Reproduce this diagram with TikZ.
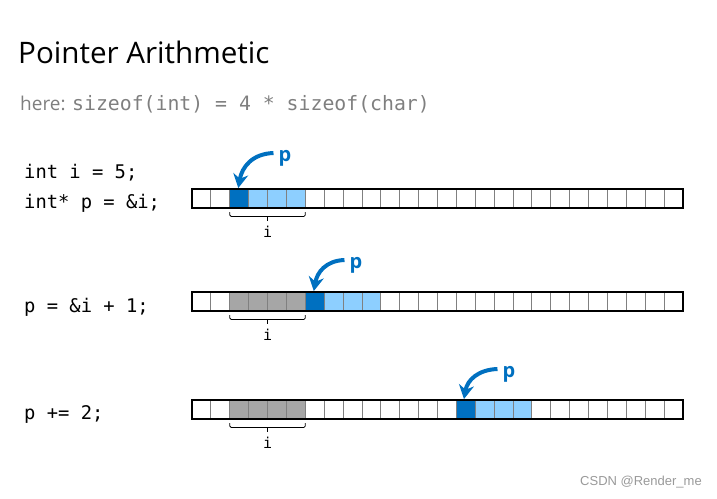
\documentclass[tikz,border=0pt]{standalone}
\usepackage{fontspec}
\setmainfont{Open Sans}
\setmonofont{DejaVu Sans Mono}
\newfontfamily\markfont{Liberation Sans}
\usetikzlibrary{arrows.meta}
\definecolor{pblue}{HTML}{0070C0}
\definecolor{lblue}{HTML}{8DCFFF}
\definecolor{igray}{HTML}{A6A6A6}
\definecolor{tgray}{HTML}{7F7F7F}

\begin{document}
\begin{tikzpicture}[x=1pt,y=-1pt,
    code/.style={anchor=west,inner sep=0pt,font=\ttfamily\fontsize{18.8}{20}\selectfont},
    plabel/.style={inner sep=0pt,text=pblue,font=\bfseries\fontsize{20}{22}\selectfont},
    parrow/.style={draw=pblue,line width=4pt,-{Stealth[length=14pt,width=15pt]}},
    ilabel/.style={inner sep=0pt,font=\ttfamily\fontsize{15}{16}\selectfont},
    inner/.style={draw=gray,line width=0.9pt},
    outer/.style={draw=black,line width=1.8pt},
    bracket/.style={draw,line width=0.8pt,rounded corners=1.5pt}]
  \useasboundingbox (0,0) rectangle (717,498);

  % Heading and note
  \node[anchor=west,inner sep=0pt,font=\fontsize{29.6}{32}\selectfont] (title) at (18,52) {Pointer Arithmetic};
  \node[anchor=west,inner sep=0pt,text=tgray,font=\fontsize{19}{22}\selectfont] (note) at (20,104)
    {here: {\ttfamily\fontsize{19.8}{22}\selectfont sizeof(int) = 4 * sizeof(char)}};

  % Code lines
  \node[code] (c1) at (24,173) {int i = 5;};
  \node[code] (c2) at (24,203) {int* p = \&i;};
  \node[code] (c3) at (24,307) {p = \&i + 1;};
  \node[code] (c4) at (24,414) {p += 2;};

  % First row: p points to i
  \begin{scope}[shift={(192,189)},x=18.885pt,y=-19pt]
    \fill[pblue] (2,0) rectangle (3,1);
    \fill[lblue] (3,0) rectangle (6,1);
    \foreach \k in {1,...,25} \draw[inner] (\k,0) -- (\k,1);
    \draw[outer] (0,0) rectangle (26,1);
    \draw[bracket] (2,1.22) -- (2,1.45) -- (4,1.45) -- (6,1.45) -- (6,1.22); % bracket under i
    \draw[line width=0.8pt] (4,1.45) -- (4,1.7);
    \node[ilabel] (i1) at (4,2.25) {i};
    \coordinate (t1) at (2.45,-0.05);
  \end{scope}
  \node[plabel] (p1) at (285,158) {p};
  \draw[parrow] ([xshift=-5pt,yshift=5pt]p1.west) to[out=182,in=80,looseness=1.1] (t1);

  % Second row: p = &i + 1
  \begin{scope}[shift={(192,292)},x=18.885pt,y=-19pt]
    \fill[igray] (2,0) rectangle (6,1);
    \fill[pblue] (6,0) rectangle (7,1);
    \fill[lblue] (7,0) rectangle (10,1);
    \foreach \k in {1,...,25} \draw[inner] (\k,0) -- (\k,1);
    \draw[outer] (0,0) rectangle (26,1);
    \draw[bracket] (2,1.22) -- (2,1.45) -- (4,1.45) -- (6,1.45) -- (6,1.22); % bracket under i
    \draw[line width=0.8pt] (4,1.45) -- (4,1.7);
    \node[ilabel] (i2) at (4,2.25) {i};
    \coordinate (t2) at (6.45,-0.05);
  \end{scope}
  \node[plabel] (p2) at (356,265) {p};
  \draw[parrow] ([xshift=-5pt,yshift=5pt]p2.west) to[out=182,in=80,looseness=1.1] (t2);

  % Third row: p += 2
  \begin{scope}[shift={(192,400)},x=18.885pt,y=-19pt]
    \fill[igray] (2,0) rectangle (6,1);
    \fill[pblue] (14,0) rectangle (15,1);
    \fill[lblue] (15,0) rectangle (18,1);
    \foreach \k in {1,...,25} \draw[inner] (\k,0) -- (\k,1);
    \draw[outer] (0,0) rectangle (26,1);
    \draw[bracket] (2,1.22) -- (2,1.45) -- (4,1.45) -- (6,1.45) -- (6,1.22); % bracket under i
    \draw[line width=0.8pt] (4,1.45) -- (4,1.7);
    \node[ilabel] (i3) at (4,2.25) {i};
    \coordinate (t3) at (14.4,-0.05);
  \end{scope}
  \node[plabel] (p3) at (509,374) {p};
  \draw[parrow] ([xshift=-5pt,yshift=5pt]p3.west) to[out=182,in=80,looseness=1.1] (t3);

  \node[anchor=east,inner sep=0pt,text=gray!80,font=\markfont\fontsize{13}{14}\selectfont] (mark) at (702,482) {CSDN @Render\_me};
\end{tikzpicture}
\end{document}
